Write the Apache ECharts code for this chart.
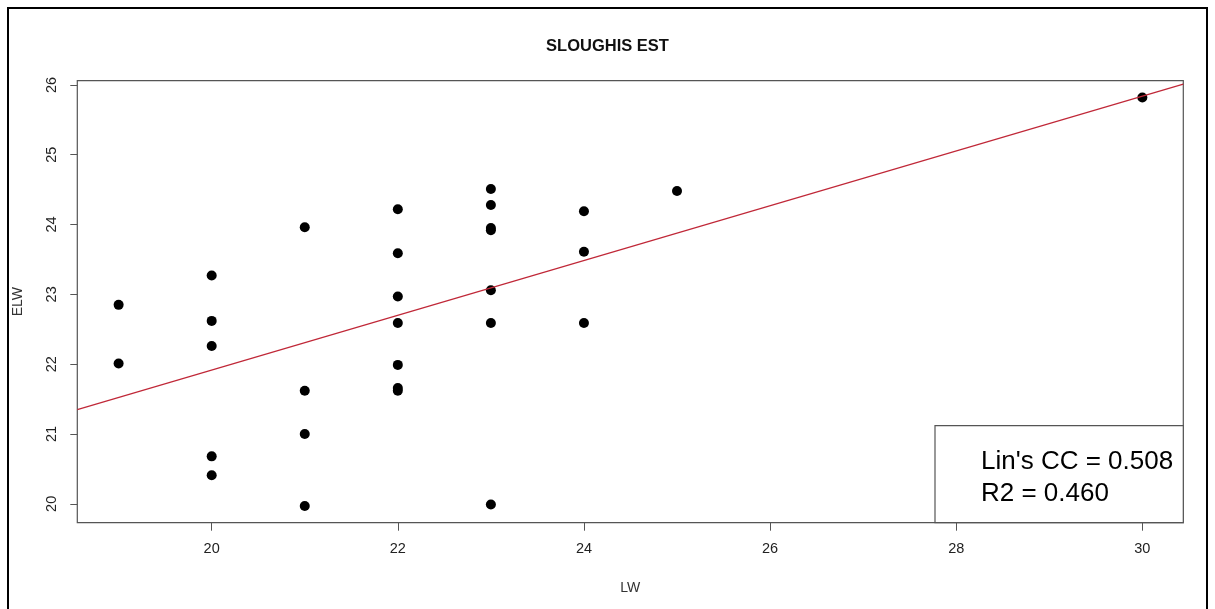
<!DOCTYPE html>
<html>
<head>
<meta charset="utf-8">
<script src="https://cdn.jsdelivr.net/npm/echarts@6/dist/echarts.min.js"></script>
<style>
html,body{margin:0;padding:0;background:#fff;}
#chart{width:1215px;height:609px;}
</style>
</head>
<body>
<div id="chart"></div>
<script>
// Data
const titleText = 'SLOUGHIS EST';
const xName = 'LW';
const yName = 'ELW';
const lwValues  = [19, 19, 20, 20, 20, 20, 20, 21, 21, 21, 21, 22, 22, 22, 22, 22, 22, 22, 23, 23, 23, 23, 23, 23, 23, 24, 24, 24, 25, 30];
const elwValues = [22.85, 22.01, 23.27, 22.62, 22.26, 20.68, 20.41, 23.96, 21.62, 21.00, 19.97, 24.22, 23.59, 22.97, 22.59, 21.99, 21.66, 21.62, 24.51, 24.28, 23.95, 23.92, 23.06, 22.59, 19.99, 24.19, 23.61, 22.59, 24.48, 25.82];
const fitLineX = [18.556, 30.44];
const fitLineY = [21.35, 26.01];
const xTicks = [20, 22, 24, 26, 28, 30];
const yTicks = [20, 21, 22, 23, 24, 25, 26];
const statLines = ["Lin's CC = 0.508", 'R2 = 0.460'];

const points = lwValues.map((x, i) => [x, elwValues[i]]);
const fitLine = fitLineX.map((x, i) => [x, fitLineY[i]]);

const chart = echarts.init(document.getElementById('chart'), null, {renderer: 'canvas'});
const font = '"Liberation Sans", Arial, sans-serif';
const gridL = 77.3, gridT = 80.7, gridW = 1106, gridH = 442;

chart.setOption({
  backgroundColor: '#ffffff',
  animation: false,
  title: {
    text: titleText,
    left: 'center',
    top: 33,
    textStyle: {fontFamily: font, fontSize: 16.5, fontWeight: 'bold', color: '#111'}
  },
  grid: {
    left: gridL, top: gridT, width: gridW, height: gridH,
    show: true, borderColor: '#555', borderWidth: 1.2, backgroundColor: 'transparent'
  },
  xAxis: {
    type: 'value',
    min: 18.556, max: 30.44,
    name: xName, nameLocation: 'middle', nameGap: 58,
    nameTextStyle: {fontFamily: font, fontSize: 14, color: '#333'},
    axisLine: {show: false},
    axisTick: {show: true, length: 8, customValues: xTicks, lineStyle: {color: '#555', width: 1}},
    axisLabel: {customValues: xTicks, margin: 19, fontFamily: font, fontSize: 14.5, color: '#222'},
    splitLine: {show: false}
  },
  yAxis: {
    type: 'value',
    min: 19.73, max: 26.06,
    name: yName, nameLocation: 'middle', nameGap: 52,
    nameTextStyle: {fontFamily: font, fontSize: 14, color: '#333'},
    axisLine: {show: false},
    axisTick: {show: true, length: 7, customValues: yTicks, lineStyle: {color: '#555', width: 1}},
    axisLabel: {customValues: yTicks, rotate: 90, margin: 18, fontFamily: font, fontSize: 14.5, color: '#222'},
    splitLine: {show: false}
  },
  series: [
    {
      type: 'scatter',
      data: points,
      symbol: 'circle',
      symbolSize: 10,
      itemStyle: {color: '#000', opacity: 1},
      z: 2
    },
    {
      type: 'line',
      data: fitLine,
      symbol: 'none',
      lineStyle: {color: '#c02838', width: 1.2},
      z: 3
    }
  ],
  graphic: [
    {
      type: 'rect', z: 10,
      shape: {x: 935, y: 425.7, width: 248.3, height: 97},
      style: {fill: '#fff', stroke: '#555', lineWidth: 1.2}
    },
    {
      type: 'text', z: 11, left: 981, top: 446,
      style: {text: statLines.join('\n'), font: '26px ' + font, fill: '#000', lineHeight: 32}
    },
    {
      type: 'rect', z: 20, silent: true,
      shape: {x: 8, y: 8, width: 1199, height: 610},
      style: {fill: 'none', stroke: '#000', lineWidth: 2}
    }
  ]
});
</script>
</body>
</html>
